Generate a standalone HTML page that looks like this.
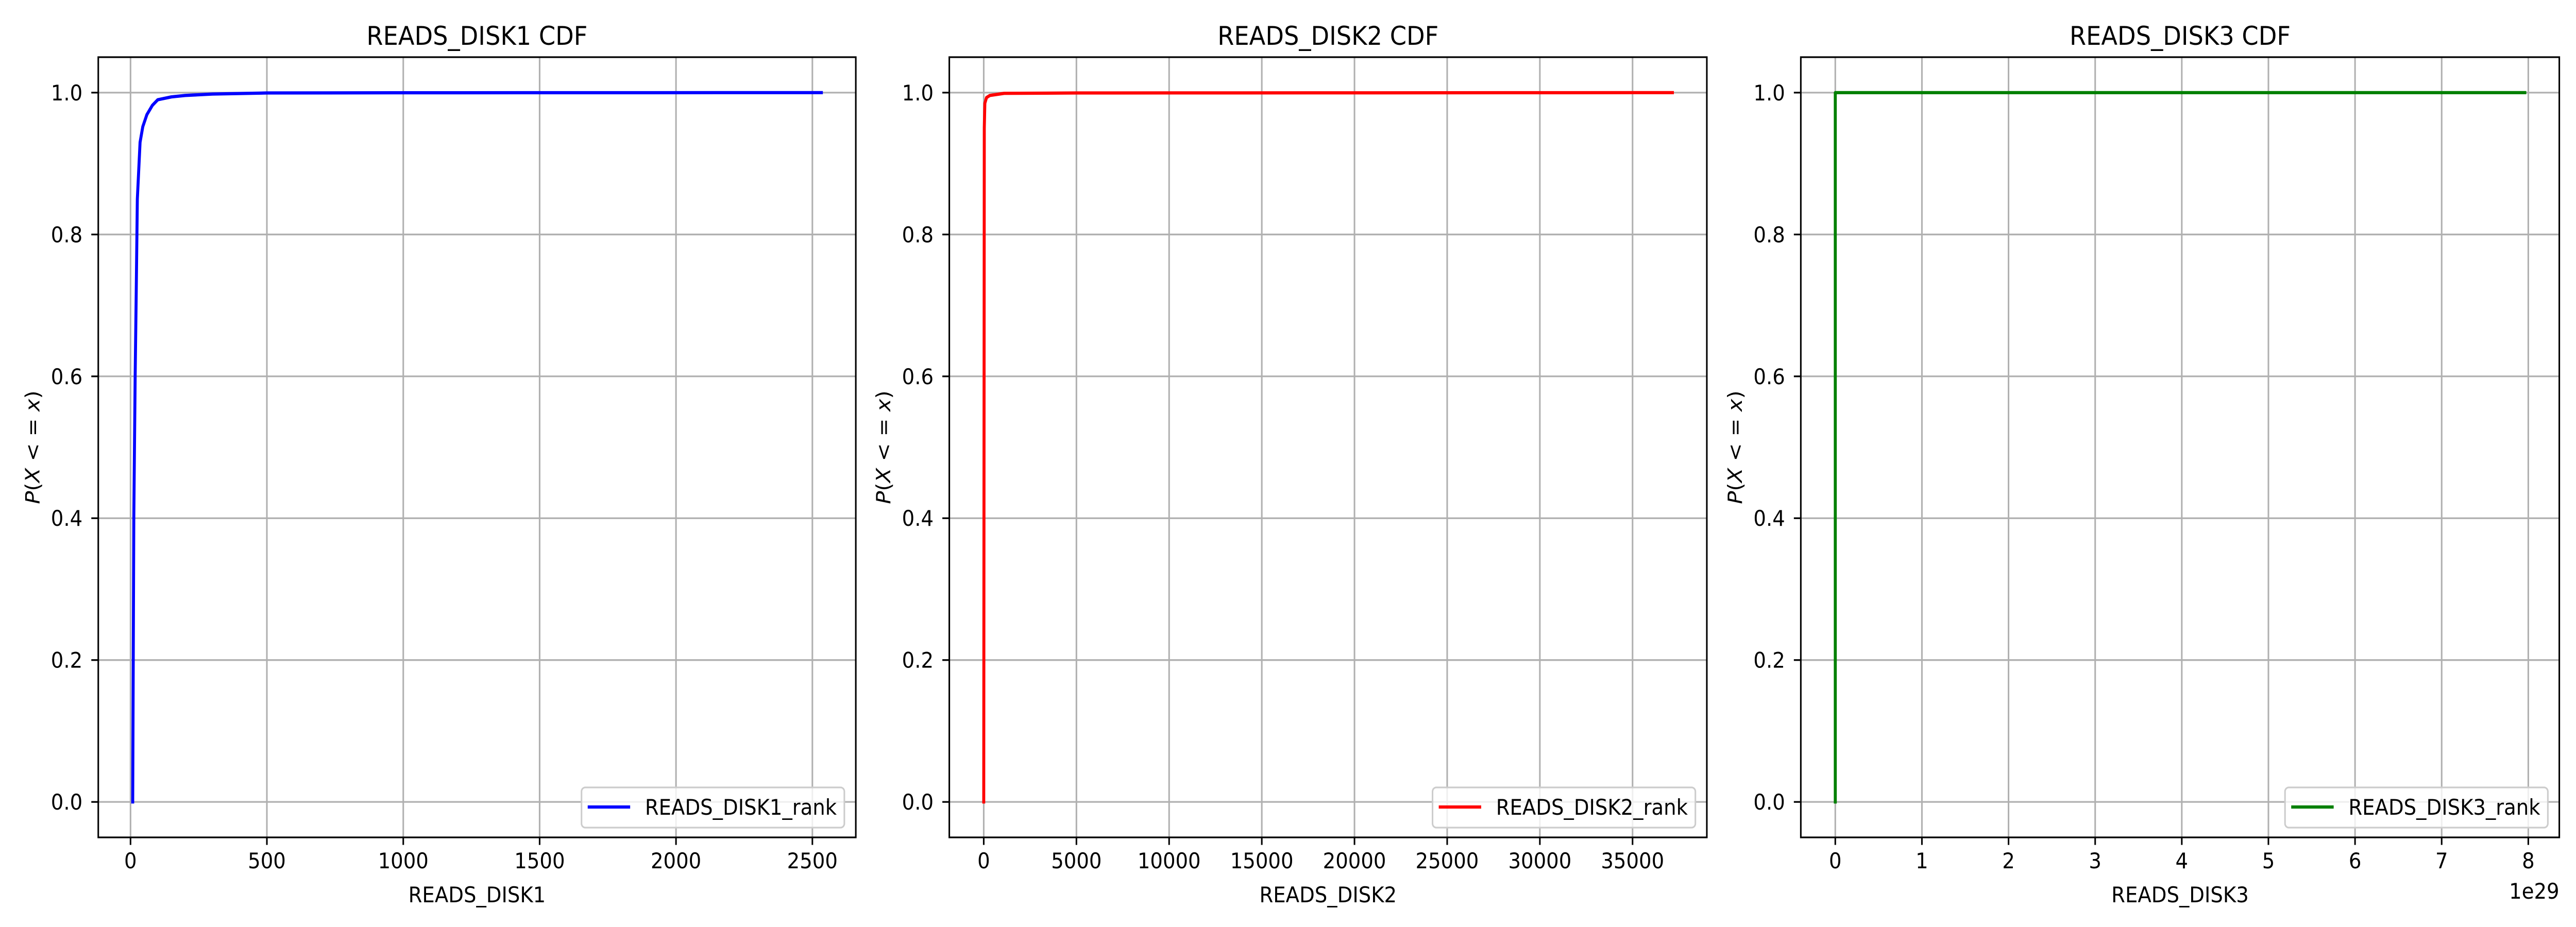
<!DOCTYPE html>
<html><head><meta charset="utf-8"><style>
html,body{margin:0;padding:0;background:#fff;width:100%;height:100%;overflow:hidden;}
svg{display:block;font-family:"DejaVu Sans","Liberation Sans",sans-serif;}
</style></head><body>
<svg id="fig" width="100%" height="100%" viewBox="0 0 5400 1800" preserveAspectRatio="none" xmlns="http://www.w3.org/2000/svg"></svg>
<script>
// Panel 1 data
const disk1X = [8, 10, 12, 17, 21, 25, 35, 45, 60, 80, 100, 150, 200, 300, 500, 1000, 2533];
const disk1P = [0, 0.2, 0.4, 0.6, 0.72, 0.85, 0.93, 0.952, 0.969, 0.982, 0.99, 0.994, 0.996, 0.998, 0.9995, 0.9998, 1];
const disk1Ticks = [0, 500, 1000, 1500, 2000, 2500];
const disk1TickLabels = ["0", "500", "1000", "1500", "2000", "2500"];
// Panel 2 data
const disk2X = [0, 30, 60, 150, 330, 1100, 5000, 37150];
const disk2P = [0, 0.95, 0.985, 0.993, 0.996, 0.999, 0.9995, 1];
const disk2Ticks = [0, 5000, 10000, 15000, 20000, 25000, 30000, 35000];
const disk2TickLabels = ["0", "5000", "10000", "15000", "20000", "25000", "30000", "35000"];
// Panel 3 data (units of 1e29)
const disk3X = [0, 0, 7.96];
const disk3P = [0, 1, 1];
const disk3Ticks = [0, 1, 2, 3, 4, 5, 6, 7, 8];
const disk3TickLabels = ["0", "1", "2", "3", "4", "5", "6", "7", "8"];
const yTicks = [0, 0.2, 0.4, 0.6, 0.8, 1.0];
const yTickLabels = ["0.0", "0.2", "0.4", "0.6", "0.8", "1.0"];

const NS = "http://www.w3.org/2000/svg";
const fig = document.getElementById('fig');
function mk(tag, attrs, parent) {
  const e = document.createElementNS(NS, tag);
  for (const k in attrs) e.setAttribute(k, attrs[k]);
  (parent || fig).appendChild(e);
  return e;
}

const panels = [
  {key:'disk1', left:206, right:1794, xs:disk1X, ps:disk1P, ticks:disk1Ticks, labels:disk1TickLabels, color:'#0000ff', title:'READS_DISK1 CDF', xlabel:'READS_DISK1', legend:'READS_DISK1_rank', offset:null},
  {key:'disk2', left:1990, right:3578, xs:disk2X, ps:disk2P, ticks:disk2Ticks, labels:disk2TickLabels, color:'#ff0000', title:'READS_DISK2 CDF', xlabel:'READS_DISK2', legend:'READS_DISK2_rank', offset:null},
  {key:'disk3', left:3775, right:5365, xs:disk3X, ps:disk3P, ticks:disk3Ticks, labels:disk3TickLabels, color:'#008000', title:'READS_DISK3 CDF', xlabel:'READS_DISK3', legend:'READS_DISK3_rank', offset:'1e29'}
];
const axTop = 111, axBottom = 1626;
const yMin = -0.05, yMax = 1.05;

panels.forEach(p => {
  const g = mk('g', {});
  
  
  const xmin = Math.min(...p.xs), xmax = Math.max(...p.xs);
  const pad = (xmax - xmin) * 0.05;
  const x0 = xmin - pad, x1 = xmax + pad;
  const sx = v => p.left + (v - x0) / (x1 - x0) * (p.right - p.left);
  const sy = v => axBottom - (v - yMin) / (yMax - yMin) * (axBottom - axTop);

  p.ticks.forEach((t, i) => {
    const X = sx(t);
    const gl = mk('line', {x1:X, x2:X, y1:axTop, y2:axBottom, stroke:'#b0b0b0', 'stroke-width':3.3}, g);
    
    
    const tk = mk('line', {x1:X, x2:X, y1:axBottom, y2:axBottom + 14.6, stroke:'#000', 'stroke-width':3.3}, g);
    
    
    const tl = mk('text', {x:X, y:1686, 'font-size':41.7, 'text-anchor':'middle', fill:'#000'}, g);
    tl.textContent = p.labels[i];
    
    
  });
  yTicks.forEach((t, i) => {
    const Y = sy(t);
    const gl = mk('line', {x1:p.left, x2:p.right, y1:Y, y2:Y, stroke:'#b0b0b0', 'stroke-width':3.3}, g);
    
    
    const tk = mk('line', {x1:p.left - 14.6, x2:p.left, y1:Y, y2:Y, stroke:'#000', 'stroke-width':3.3}, g);
    
    
    const tl = mk('text', {x:p.left - 33, y:Y + 15, 'font-size':41.7, 'text-anchor':'end', fill:'#000'}, g);
    tl.textContent = yTickLabels[i];
    
    
  });

  const d = p.xs.map((v, i) => (i ? 'L' : 'M') + sx(v).toFixed(2) + ' ' + sy(p.ps[i]).toFixed(2)).join(' ');
  const ln = mk('path', {d:d, fill:'none', stroke:p.color, 'stroke-width':6.25, 'stroke-linejoin':'round', 'stroke-linecap':'square'}, g);
  
  

  const sp = mk('rect', {x:p.left, y:axTop, width:p.right - p.left, height:axBottom - axTop, fill:'none', stroke:'#000', 'stroke-width':3.3}, g);
  
  

  const tt = mk('text', {x:(p.left + p.right) / 2, y:87, 'font-size':50, 'text-anchor':'middle', fill:'#000'}, g);
  tt.textContent = p.title;
  
  

  const xl = mk('text', {x:(p.left + p.right) / 2, y:1752, 'font-size':41.7, 'text-anchor':'middle', fill:'#000'}, g);
  xl.textContent = p.xlabel;
  
  

  const yc = (axTop + axBottom) / 2, yx = p.left - 137;
  const yl = mk('text', {x:yx, y:yc, 'font-size':41.7, 'text-anchor':'middle', 'dominant-baseline':'central', fill:'#000', transform:'rotate(-90 ' + yx + ' ' + yc + ')'}, g);
  yl.innerHTML = '<tspan font-style="italic">P</tspan>(<tspan font-style="italic">X</tspan> &lt; = <tspan font-style="italic">x</tspan>)';
  
  

  if (p.offset) {
    const ot = mk('text', {x:p.right, y:1745, 'font-size':41.7, 'text-anchor':'end', fill:'#000'}, g);
    ot.textContent = p.offset;
    
    
  }

  const lw = 551, lh = 78;
  const lx = p.right - 24 - lw, ly = axBottom - 19 - lh;
  const lg = mk('g', {}, g);
  
  
  mk('rect', {x:lx, y:ly, width:lw, height:lh, rx:8, fill:'#ffffff', 'fill-opacity':0.8, stroke:'#cccccc', 'stroke-width':3.3}, lg);
  const ll = mk('line', {x1:lx + 13, x2:lx + 102, y1:ly + 38, y2:ly + 38, stroke:p.color, 'stroke-width':6.25}, lg);
  
  
  const lt = mk('text', {x:lx + 133, y:ly + 53, 'font-size':41.7, fill:'#000'}, lg);
  lt.textContent = p.legend;
  
  
});
</script>
</body></html>
